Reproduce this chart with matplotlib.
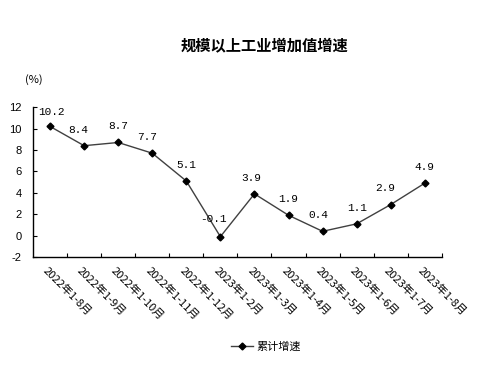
import matplotlib
matplotlib.use("Agg")
import matplotlib.pyplot as plt

plt.rcParams['font.family'] = ['Noto Sans CJK SC', 'DejaVu Sans']

categories = ["2022年1-8月", "2022年1-9月", "2022年1-10月", "2022年1-11月", "2022年1-12月",
              "2023年1-2月", "2023年1-3月", "2023年1-4月", "2023年1-5月", "2023年1-6月",
              "2023年1-7月", "2023年1-8月"]
values = [10.2, 8.4, 8.7, 7.7, 5.1, -0.1, 3.9, 1.9, 0.4, 1.1, 2.9, 4.9]
yticks = [-2, 0, 2, 4, 6, 8, 10, 12]

fig = plt.figure(figsize=(4.97, 3.67), dpi=100)
ax = fig.add_axes([0.0664, 0.2997, 0.8226, 0.4083])

x = list(range(len(values)))
ax.plot(x, values, color='#404040', lw=1.0, marker='D', ms=3.5,
        mfc='black', mec='black', label='累计增速')

label_offsets = [(1, 7), (-4, 8), (0, 8), (-4, 8), (0, 8), (-5, 9),
                 (-2, 8), (0, 8), (-3, 8), (0, 8), (-4, 8), (0, 8)]
for xi, v, (dx, dy) in zip(x, values, label_offsets):
    ax.annotate(f"{v:.1f}", (xi, v), xytext=(dx, dy), textcoords='offset points',
                ha='center', va='bottom', fontsize=8, family=['Liberation Mono', 'DejaVu Sans'])

ax.set_xlim(-0.5, len(values) - 0.5)
ax.set_ylim(-2, 12)
ax.set_yticks(yticks)
ax.set_yticklabels([str(t) for t in yticks], fontsize=8, family=['Liberation Sans', 'DejaVu Sans'])
ax.tick_params(axis='y', direction='in', length=3, pad=8)

ax.set_xticks([i + 0.5 for i in range(len(values) - 1)] + [len(values) - 0.5], minor=False)
ax.set_xticklabels([])
ax.tick_params(axis='x', direction='in', length=3)
for xi, lab in zip(x, categories):
    ax.text(xi - 0.15, -3.15, lab, rotation=-45, rotation_mode='anchor', ha='left', va='center',
            fontsize=8)

for s in ['top', 'right']:
    ax.spines[s].set_visible(False)
for s in ['left', 'bottom']:
    ax.spines[s].set_color('black')
    ax.spines[s].set_linewidth(1.0)

fig.text(0.533, 0.877, '规模以上工业增加值增速', ha='center', va='center', fontsize=11, fontweight='bold')
fig.text(0.05, 0.782, '(%)', ha='left', va='center', fontsize=8)

fig.legend(loc='center', bbox_to_anchor=(0.535, 0.055), frameon=False, fontsize=8,
           handlelength=2.0, handletextpad=0.3)

fig.savefig('out.png', dpi=100)
